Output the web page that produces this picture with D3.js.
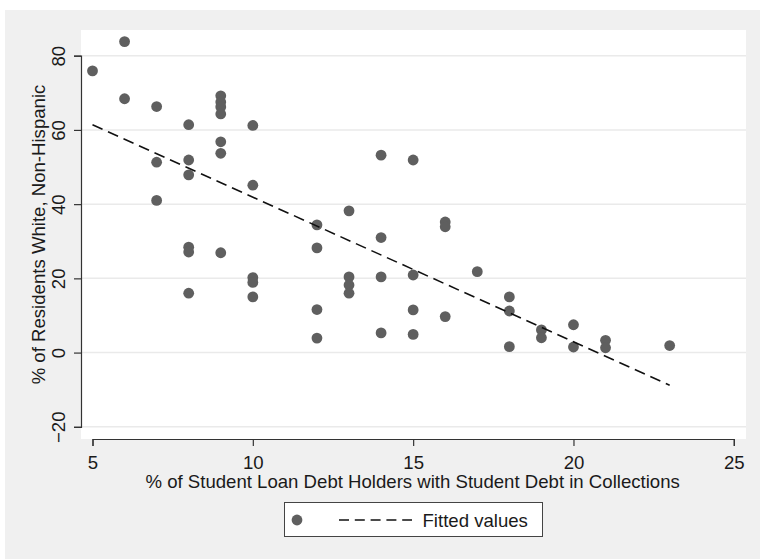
<!DOCTYPE html>
<html>
<head>
<meta charset="utf-8">
<script src="https://cdn.jsdelivr.net/npm/d3@7"></script>
<style>
  html, body { margin: 0; padding: 0; background: #ffffff; }
  svg { display: block; }
  text { font-family: "Liberation Sans", Arial, sans-serif; fill: #1a1a1a; }
</style>
</head>
<body>
<svg id="chart" width="760" height="559"></svg>
<script>
// ---- data ----
const debtPct = [
  5,
  6, 6,
  7, 7, 7,
  8, 8, 8, 8, 8, 8,
  9, 9, 9, 9, 9, 9, 9,
  10, 10, 10, 10, 10,
  12, 12, 12, 12,
  13, 13, 13, 13,
  14, 14, 14, 14,
  15, 15, 15, 15,
  16, 16, 16,
  17,
  18, 18, 18,
  19, 19,
  20, 20,
  21, 21,
  23
];
const whitePct = [
  75.9,
  83.8, 68.4,
  66.3, 51.3, 41.0,
  61.4, 51.9, 47.9, 28.4, 27.1, 16.0,
  69.2, 67.5, 66.2, 64.3, 56.8, 53.7, 26.9,
  61.2, 45.1, 20.2, 18.9, 15.0,
  34.4, 28.2, 11.6, 3.9,
  38.2, 20.4, 18.2, 16.0,
  53.2, 31.0, 20.4, 5.3,
  51.9, 20.9, 11.5, 4.9,
  35.2, 33.9, 9.7,
  21.8,
  15.0, 11.2, 1.6,
  6.1, 4.0,
  7.5, 1.5,
  3.3, 1.3,
  1.9
];
const fitX = [5, 23];
const fitY = [61.4, -8.8];
const xTicks = [5, 10, 15, 20, 25];
const yTicks = [-20, 0, 20, 40, 60, 80];
const xTitle = "% of Student Loan Debt Holders with Student Debt in Collections";
const yTitle = "% of Residents White, Non-Hispanic";
const legendLabel = "Fitted values";

// ---- layout ----
const svg = d3.select("#chart");
const plot = { left: 81, right: 746, top: 30, bottom: 439 };
const FS = 18.6;

svg.append("rect").attr("x", 5).attr("y", 10).attr("width", 755).attr("height", 549)
  .attr("fill", "#f0f0f0");
svg.append("rect").attr("x", plot.left).attr("y", plot.top)
  .attr("width", plot.right - plot.left).attr("height", plot.bottom - plot.top)
  .attr("fill", "#ffffff");

const x = d3.scaleLinear().domain([5, 25]).range([92.5, 733.8]);
const y = d3.scaleLinear().domain([-20, 80]).range([426.8, 55.7]);

// gridlines
svg.append("g").selectAll("line").data(yTicks).join("line")
  .attr("x1", plot.left).attr("x2", plot.right)
  .attr("y1", d => y(d)).attr("y2", d => y(d))
  .attr("stroke", "#eaeaea").attr("stroke-width", 1.5);

// axes
const xAxis = svg.append("g").attr("transform", `translate(0,${plot.bottom})`)
  .call(d3.axisBottom(x).tickValues(xTicks).tickSize(7).tickPadding(6).tickFormat(d3.format("d")));
const yAxis = svg.append("g").attr("transform", `translate(${plot.left},0)`)
  .call(d3.axisLeft(y).tickValues(yTicks).tickSize(7).tickFormat(d3.format("d")));

[xAxis, yAxis].forEach(g => {
  g.select(".domain").attr("stroke", "#333333").attr("stroke-width", 1.2);
  g.selectAll(".tick line").attr("stroke", "#333333").attr("stroke-width", 1.2);
  g.selectAll("text").attr("font-size", FS).attr("fill", "#1a1a1a")
    .attr("font-family", "'Liberation Sans', Arial, sans-serif");
});
xAxis.selectAll("text").attr("dy", null).attr("y", 30);
// rotate the y tick labels (read bottom-to-top)
yAxis.selectAll(".tick text")
  .attr("x", null).attr("dy", null)
  .attr("transform", "translate(-16,0) rotate(-90)")
  .attr("text-anchor", "middle").attr("y", 0).attr("dy", "0");

// axis titles
svg.append("text").attr("x", (92.5 + 733.8) / 2 - 0.5).attr("y", 488)
  .attr("text-anchor", "middle").attr("font-size", FS).text(xTitle);
svg.append("text")
  .attr("transform", `translate(45,${(plot.top + plot.bottom) / 2}) rotate(-90)`)
  .attr("text-anchor", "middle").attr("font-size", FS).text(yTitle);

// points
const pts = debtPct.map((d, i) => ({ x: d, y: whitePct[i] }));
svg.append("g").selectAll("circle").data(pts).join("circle")
  .attr("cx", d => x(d.x)).attr("cy", d => y(d.y)).attr("r", 5.4)
  .attr("fill", "#5f5f5f");

// fitted line
const line = d3.line().x(d => x(d[0])).y(d => y(d[1]));
svg.append("path").datum(fitX.map((d, i) => [d, fitY[i]]))
  .attr("d", line).attr("fill", "none").attr("stroke", "#111111")
  .attr("stroke-width", 1.6).attr("stroke-dasharray", "11,6");

// legend
const lg = svg.append("g");
lg.append("rect").attr("x", 284.5).attr("y", 502.5).attr("width", 258).attr("height", 34)
  .attr("fill", "#ffffff").attr("stroke", "#444444").attr("stroke-width", 1);
lg.append("circle").attr("cx", 297).attr("cy", 520).attr("r", 5.4).attr("fill", "#5f5f5f");
lg.append("line").attr("x1", 339).attr("x2", 412).attr("y1", 520).attr("y2", 520)
  .attr("stroke", "#111111").attr("stroke-width", 1.6).attr("stroke-dasharray", "10,5.8");
lg.append("text").attr("x", 422.5).attr("y", 526.5).attr("font-size", FS).text(legendLabel);
</script>
</body>
</html>
